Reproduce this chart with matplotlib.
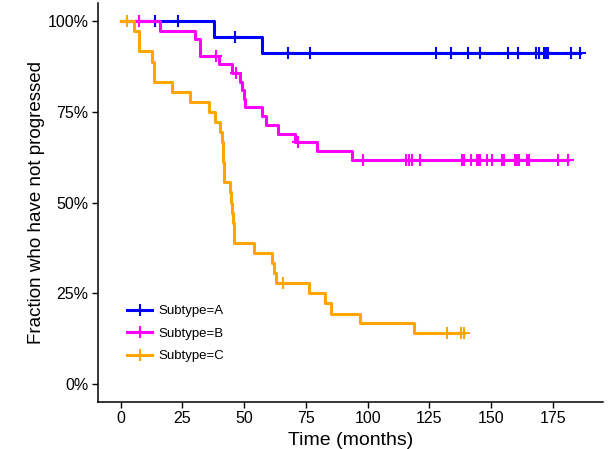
import numpy as np
import matplotlib.pyplot as plt
from matplotlib.ticker import FuncFormatter

plt.rcParams['font.family'] = ['Liberation Sans', 'DejaVu Sans']

# Kaplan-Meier style curves: event times (months) and survival level after each step
a_times = [38.0, 57.2]
a_surv = [0.9565, 0.913]
a_censor = [13.8, 23.2, 46.5, 67.6, 76.5, 127.8, 133.7, 140.6, 145.6, 156.8,
            160.9, 168.2, 169.4, 171.6, 172.3, 172.9, 182.2, 186.0]

b_times = [16.1, 30.2, 32.3, 39.7, 45.1, 48.2, 49.1, 50.1, 50.5, 57.2,
           59.0, 63.9, 70.7, 79.5, 93.6]
b_surv = [0.974, 0.951, 0.905, 0.882, 0.857, 0.833, 0.810, 0.786, 0.763, 0.739,
          0.715, 0.690, 0.666, 0.642, 0.617]
b_censor = [7.6, 38.7, 46.8, 72.0, 98.3, 115.6, 116.6, 117.9, 121.3, 138.2,
            139.1, 141.8, 144.2, 144.9, 145.6, 148.5, 150.3, 154.3, 155.3, 159.7,
            160.7, 161.5, 164.5, 165.5, 177.3, 181.3]

c_times = [5.5, 7.6, 12.7, 13.4, 20.8, 27.9, 35.6, 38.1, 40.1, 41.0,
           41.4, 41.6, 41.7, 41.9, 44.3, 44.6, 44.9, 45.6, 45.9, 46.1,
           54.1, 61.3, 62.2, 63.0, 76.4, 82.8, 85.1, 97.0, 119.0]
c_surv = [0.972, 0.917, 0.889, 0.833, 0.806, 0.778, 0.750, 0.722, 0.694, 0.667,
          0.639, 0.611, 0.583, 0.556, 0.528, 0.500, 0.472, 0.444, 0.417, 0.389,
          0.361, 0.333, 0.306, 0.278, 0.250, 0.222, 0.194, 0.167, 0.139]
c_censor = [2.6, 65.7, 132.3, 137.8, 139.2]

groups = [
    ("Subtype=A", a_times, a_surv, a_censor, "#0000FF"),
    ("Subtype=B", b_times, b_surv, b_censor, "#FF00FF"),
    ("Subtype=C", c_times, c_surv, c_censor, "#FFA500"),
]


def surv_at(times, surv, t):
    # value of the step curve at time t
    idx = np.searchsorted(times, t, side="right")
    levels = np.concatenate([[1.0], surv])
    return levels[idx]


fig = plt.figure(figsize=(6.09, 4.49), dpi=100)
ax = fig.add_axes([0.1604, 0.1047, 0.8296, 0.8882])

for label, times, surv, censor, color in groups:
    times = np.asarray(times)
    surv = np.asarray(surv)
    end = max(max(censor), times[-1])
    xs = np.concatenate([[0.0], times, [end]])
    ys = np.concatenate([[1.0], surv, [surv[-1]]])
    ax.step(xs, ys, where="post", color=color, lw=2.2)
    cy = surv_at(times, surv, np.asarray(censor))
    ax.plot(censor, cy, ls="none", marker="+", ms=8, mew=1.5, color=color)
    # legend proxy
    ax.plot([], [], color=color, lw=2.2, marker="+", ms=8, mew=1.5, label=label)

ax.set_xlim(-9.3, 195.3)
ax.set_ylim(-0.05, 1.05)
ax.set_xticks(np.arange(0, 176, 25))
ax.set_yticks([0, 0.25, 0.5, 0.75, 1.0])
ax.yaxis.set_major_formatter(FuncFormatter(lambda v, p: f"{v * 100:.0f}%"))

for side in ["top", "right"]:
    ax.spines[side].set_visible(False)
for side in ["left", "bottom"]:
    ax.spines[side].set_linewidth(1.1)
ax.tick_params(length=4, width=1.0, labelsize=11.5, colors="black", pad=2.5)

ax.set_xlabel("Time (months)", fontsize=14, labelpad=4)
ax.set_ylabel("Fraction who have not progressed", fontsize=13.5, labelpad=2)

ax.legend(loc="center left", bbox_to_anchor=(0.045, 0.171), frameon=False,
          fontsize=9.5, handlelength=1.9, handletextpad=0.5, labelspacing=0.78,
          borderpad=0)

fig.savefig("out.png", dpi=100)
